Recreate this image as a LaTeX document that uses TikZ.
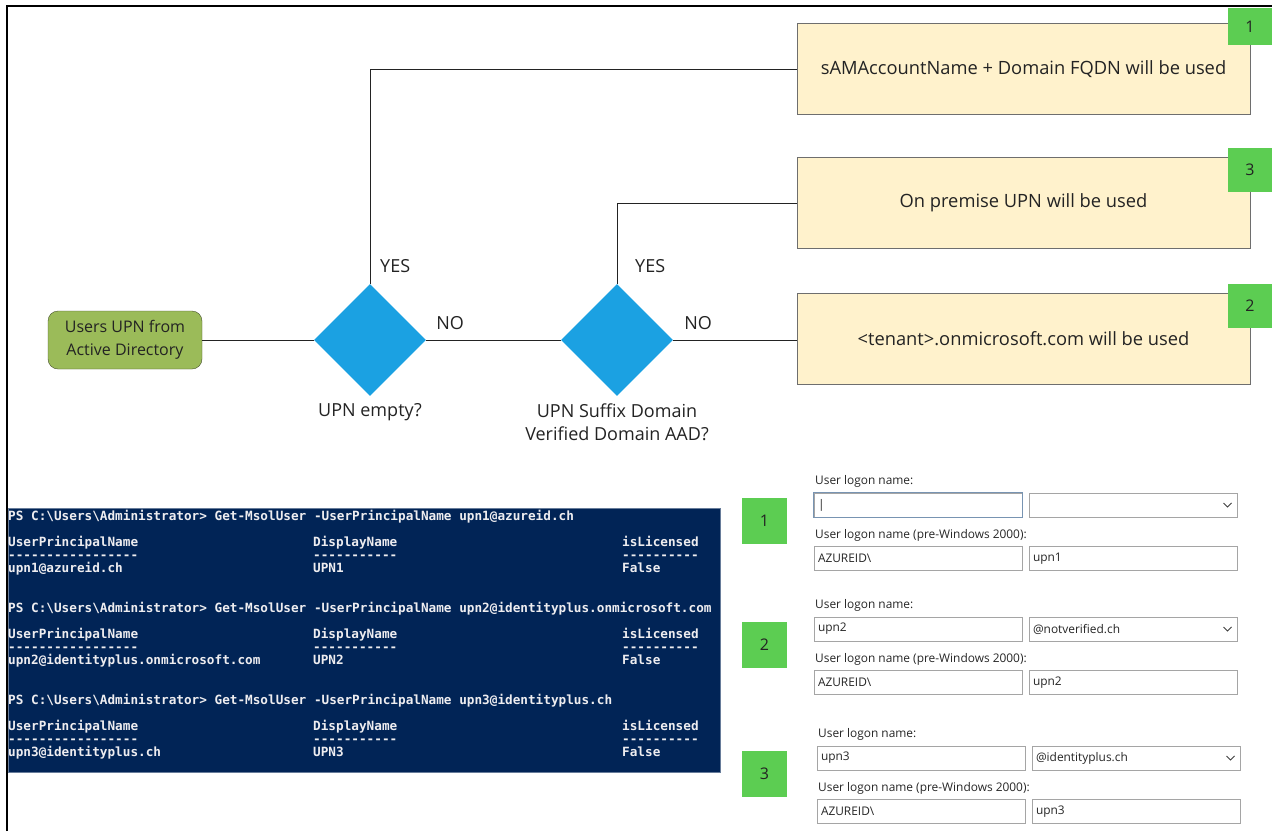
\documentclass[tikz,border=0pt]{standalone}
\usepackage{fontspec}
\setmainfont{Open Sans}
\newfontfamily\psfont{DejaVu Sans Mono}
\usepackage{tikz}
\usetikzlibrary{shapes.geometric, positioning, calc}
\definecolor{startgreen}{RGB}{155, 187, 89}
\definecolor{startedge}{RGB}{70, 80, 45}
\definecolor{diablue}{RGB}{27, 161, 226}
\definecolor{boxtan}{RGB}{255, 242, 204}
\definecolor{boxedge}{RGB}{110, 110, 110}
\definecolor{taggreen}{RGB}{92, 205, 82}
\definecolor{psnavy}{RGB}{1, 36, 86}
\definecolor{pstext}{RGB}{238, 237, 240}
\definecolor{fieldgray}{RGB}{165, 165, 165}
\definecolor{fieldblue}{RGB}{120, 148, 178}
\definecolor{inkgray}{RGB}{35, 35, 35}
\tikzset{
  startnode/.style={rectangle, rounded corners=10pt, minimum width=154pt, minimum height=58pt, align=center, draw=startedge, fill=startgreen, text=inkgray, font=\fontsize{16}{23}\selectfont},
  decision/.style={diamond, minimum width=112pt, minimum height=112pt, inner sep=0pt, fill=diablue},
  outcome/.style={rectangle, minimum width=453pt, minimum height=91pt, draw=boxedge, fill=boxtan, text=inkgray, font=\fontsize{18.3}{21}\selectfont},
  numtag/.style={rectangle, minimum width=44pt, minimum height=44pt, inner sep=0pt, fill=taggreen, text=inkgray, font=\fontsize{16}{18}\selectfont},
  flowlabel/.style={inner sep=0pt, text=inkgray, font=\fontsize{18}{23}\selectfont, align=center},
  conn/.style={draw=inkgray, line width=1pt},
  psline/.style={anchor=base west, inner sep=0pt, text=pstext, font=\psfont\bfseries\fontsize{12.7}{14}\selectfont},
  formlabel/.style={anchor=west, inner sep=0pt, text=black!85, font=\fontsize{11.9}{13}\selectfont},
  field/.style={rectangle, draw=fieldgray, line width=1pt, fill=white, text width=200pt, align=left, inner xsep=4pt, inner ysep=0pt, minimum height=24pt, text=black!85, font=\fontsize{11.9}{13}\selectfont},
  chev/.style={draw=black!75, line width=1pt}
}

\begin{document}
\begin{tikzpicture}[x=1pt, y=-1pt]
  \useasboundingbox (0,0) rectangle (1272,831);
  % marco
  \draw[line width=1.5pt] (7,831) |- (1272,6);

  % diagrama de decision
  \node (start) [startnode] at (125,340) {Users UPN from\\Active Directory};
  \node (d1) [decision] at (370,340) {};
  \node (d2) [decision] at (617,340) {};
  \node (box1) [outcome] at (1023.5,69) {sAMAccountName + Domain FQDN will be used};
  \node (box3) [outcome] at (1023.5,203) {On premise UPN will be used};
  \node (box2) [outcome] at (1023.5,339) {<tenant>.onmicrosoft.com will be used};
  \node (tag1) [numtag, minimum height=37pt] at (1250,26.5) {1};
  \node (tag3) [numtag] at (1250,170) {3};
  \node (tag2) [numtag] at (1250,305.5) {2};

  \draw[conn] (start) -- (d1);
  \draw[conn] (d1) -- (d2);
  \draw[conn] (d2.east) -- (d2.east -| box2.west);
  \draw[conn] (d1.north) |- (box1.west);
  \draw[conn] (d2.north) |- (box3.west);

  \node (yes1) [flowlabel, above right=10.5pt and 10pt of d1.north] {YES};
  \node (no1) [flowlabel, above right=10.5pt and 10pt of d1.east] {NO};
  \node (yes2) [flowlabel, above right=10.5pt and 18pt of d2.north] {YES};
  \node (no2) [flowlabel, above right=10.5pt and 11pt of d2.east] {NO};
  \node (q1) [flowlabel, below=7pt of d1] {UPN empty?};
  \node (q2) [flowlabel, below=7pt of d2] {UPN Suffix Domain\\Verified Domain AAD?};

  % consola PowerShell
  \node (psbox) [rectangle, minimum width=712pt, minimum height=264pt, inner sep=0pt, fill=psnavy, draw=psnavy!60!white, line width=0.8pt] at (364,640) {};
  \foreach \i/\y/\upn in {1/516/upn1@azureid.ch, 2/608/upn2@identityplus.onmicrosoft.com, 3/700/upn3@identityplus.ch} {
    \node (cmd\i) [psline] at (8,\y+4.5) {PS C:\textbackslash Users\textbackslash Administrator> Get-MsolUser -UserPrincipalName \upn};
    \node (hupn\i) [psline] at (8,\y+30.5) {UserPrincipalName};
    \node (hdisp\i) [psline] at (313,\y+30.5) {DisplayName};
    \node (hlic\i) [psline] at (622,\y+30.5) {isLicensed};
    \node (rupn\i) [psline] at (8,\y+43.5) {-----------------};
    \node (rdisp\i) [psline] at (313,\y+43.5) {-----------};
    \node (rlic\i) [psline] at (622,\y+43.5) {----------};
    \node (vupn\i) [psline] at (8,\y+56.5) {\upn};
    \node (vdisp\i) [psline] at (313,\y+56.5) {UPN\i};
    \node (vlic\i) [psline] at (622,\y+56.5) {False};
  }

  % formularios de usuario
  \foreach \k/\x/\y/\first/\domain in {1/814/481/{|}/{}, 2/814/605/upn2/@notverified.ch, 3/817/734/upn3/@identityplus.ch} {
    \node (ftag\k) [numtag, minimum width=45pt, minimum height=46pt] at (764.5,\y+40) {\k};
    \node (lbl\k) [formlabel] at (\x+1,\y) {User logon name:};
    \node (logon\k) [field] at (\x+104,\y+24) {\first};
    \node (suffix\k) [field] at (\x+319,\y+24) {\domain};
    \draw[chev] ($(suffix\k.east)+(-14,-2)$) -- ++(4,4) -- ++(4,-4);
    \node (pre\k) [formlabel] at (\x+1,\y+54.5) {User logon name (pre-Windows 2000):};
    \node (sam\k) [field] at (\x+104,\y+77.5) {AZUREID\textbackslash};
    \node (acct\k) [field] at (\x+319,\y+77.5) {upn\k};
  }
  \draw[fieldblue, line width=1pt] (logon1.south west) rectangle (logon1.north east);
\end{tikzpicture}
\end{document}
